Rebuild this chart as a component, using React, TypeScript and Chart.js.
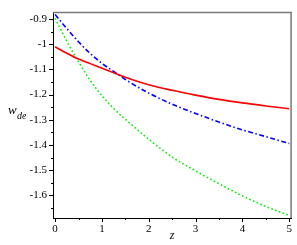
import React, { useEffect, useRef } from "react";
import { Chart, registerables } from "chart.js";

Chart.register(...registerables);

const zValues = [0, 0.25, 0.5, 0.75, 1, 1.25, 1.5, 2, 2.5, 3, 3.5, 4, 4.5, 5];
const redSeries = [-1.01, -1.036, -1.059, -1.077, -1.095, -1.113, -1.131, -1.161, -1.183, -1.202, -1.219, -1.233, -1.245, -1.256];
const blueSeries = [-0.882, -0.938, -0.99, -1.037, -1.076, -1.108, -1.14, -1.194, -1.238, -1.275, -1.309, -1.34, -1.367, -1.394];
const greenSeries = [-0.897, -0.988, -1.07, -1.143, -1.205, -1.255, -1.298, -1.377, -1.448, -1.503, -1.554, -1.602, -1.644, -1.68];

const xMajorTicks = [0, 1, 2, 3, 4, 5];
const xMinorTicks = [0.5, 1.5, 2.5, 3.5, 4.5];
const yMajorTicks = [-0.9, -1, -1.1, -1.2, -1.3, -1.4, -1.5, -1.6];
const yMinorTicks = [-0.95, -1.05, -1.15, -1.25, -1.35, -1.45, -1.55, -1.65];

const SERIF = "'Liberation Serif', 'DejaVu Serif', serif";

const pts = (ys: number[]) => zValues.map((z, i) => ({ x: z, y: ys[i] }));

const decorPlugin = {
  id: "decor",
  afterDraw(chart: any) {
    const ctx = chart.ctx;
    const { left, right, top, bottom } = chart.chartArea;
    const xs = chart.scales.x;
    const ys = chart.scales.y;
    ctx.save();
    // grey frame top / right
    ctx.strokeStyle = "#7a7a7a";
    ctx.lineWidth = 1.5;
    ctx.beginPath();
    ctx.moveTo(left, top);
    ctx.lineTo(right, top);
    ctx.lineTo(right, bottom);
    ctx.stroke();
    // ticks
    ctx.strokeStyle = "#000";
    ctx.lineWidth = 1;
    ctx.beginPath();
    xMajorTicks.forEach((v) => {
      const p = Math.round(xs.getPixelForValue(v)) + 0.5;
      ctx.moveTo(p, bottom);
      ctx.lineTo(p, bottom + 4);
    });
    xMinorTicks.forEach((v) => {
      const p = Math.round(xs.getPixelForValue(v)) + 0.5;
      ctx.moveTo(p, bottom);
      ctx.lineTo(p, bottom + 2);
    });
    yMajorTicks.forEach((v) => {
      const p = Math.round(ys.getPixelForValue(v)) + 0.5;
      ctx.moveTo(left, p);
      ctx.lineTo(left - 4, p);
    });
    yMinorTicks.forEach((v) => {
      const p = Math.round(ys.getPixelForValue(v)) + 0.5;
      ctx.moveTo(left, p);
      ctx.lineTo(left - 2, p);
    });
    ctx.stroke();
    // y-axis title w_de
    ctx.fillStyle = "#000";
    ctx.textBaseline = "alphabetic";
    ctx.textAlign = "left";
    ctx.font = `italic 13px ${SERIF}`;
    ctx.fillText("w", 8, 114);
    ctx.font = `italic 10px ${SERIF}`;
    ctx.fillText("de", 17, 119);
    ctx.restore();
  },
};

export default function App() {
  const ref = useRef<HTMLCanvasElement>(null);
  useEffect(() => {
    document.body.style.margin = "0";
    const chart = new Chart(ref.current!, {
      type: "line",
      data: {
        datasets: [
          {
            label: "red",
            data: pts(redSeries),
            borderColor: "#ff0000",
            borderWidth: 1.6,
            pointRadius: 0,
            cubicInterpolationMode: "monotone",
          },
          {
            label: "blue",
            data: pts(blueSeries),
            borderColor: "#0000ff",
            borderWidth: 1.6,
            borderDash: [5, 2.5, 1.5, 2.5],
            pointRadius: 0,
            cubicInterpolationMode: "monotone",
          },
          {
            label: "green",
            data: pts(greenSeries),
            borderColor: "#00ee00",
            borderWidth: 1.6,
            borderDash: [1.6, 2.4],
            pointRadius: 0,
            cubicInterpolationMode: "monotone",
          },
        ],
      },
      options: {
        responsive: false,
        animation: false,
        layout: { padding: { top: 4, right: 5, left: 0, bottom: 0 } },
        plugins: { legend: { display: false }, tooltip: { enabled: false } },
        scales: {
          x: {
            type: "linear",
            min: -0.045,
            max: 5.04,
            afterFit: (s: any) => {
              s.height = 27;
            },
            afterBuildTicks: (s: any) => {
              s.ticks = xMajorTicks.map((v) => ({ value: v }));
            },
            grid: { display: false, drawTicks: false },
            border: { display: true, color: "#000", width: 1 },
            ticks: {
              padding: 5,
              color: "#000",
              font: { family: SERIF, size: 11 },
              maxRotation: 0,
              callback: (v: any) => String(v),
            },
            title: {
              display: true,
              text: "z",
              color: "#000",
              font: { family: SERIF, size: 12, style: "italic" },
              padding: { top: 0, bottom: 2 },
            },
          },
          y: {
            type: "linear",
            min: -1.69,
            max: -0.8744,
            afterFit: (s: any) => {
              s.width = 53;
            },
            afterBuildTicks: (s: any) => {
              s.ticks = yMajorTicks.map((v) => ({ value: v }));
            },
            grid: { display: false, drawTicks: false },
            border: { display: true, color: "#000", width: 1 },
            ticks: {
              padding: 6,
              color: "#000",
              font: { family: SERIF, size: 11 },
              callback: (v: any) => String(Math.round(v * 10) / 10),
            },
          },
        },
      },
      plugins: [decorPlugin],
    });
    return () => chart.destroy();
  }, []);
  return <canvas ref={ref} width={297} height={245} style={{ display: "block" }} />;
}
